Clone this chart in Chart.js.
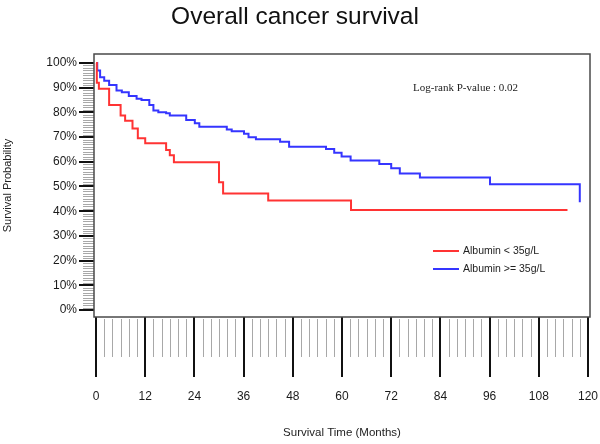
<!DOCTYPE html>
<html>
<head>
<meta charset="utf-8">
<title>Overall cancer survival</title>
<script src="https://cdn.jsdelivr.net/npm/chart.js@4.4.1/dist/chart.umd.min.js"></script>
<style>
    html, body { margin: 0; padding: 0; background: #ffffff; }
    #chartWrap { width: 600px; height: 444px; position: relative; }
</style>
</head>
<body>
<div id="chartWrap"><canvas id="survivalChart"></canvas></div>
<script>
// Kaplan-Meier steps (months, survival %)
const lowTimes = [0, 0.2, 0.7, 3.2, 6.0, 7.1, 8.9, 10.2, 12.0, 17.1, 18.0, 19.0, 30.0, 31.0, 42.0, 62.2, 115];
const lowSurvival = [100, 92, 89.5, 83.0, 78.7, 76.6, 73.5, 69.5, 67.5, 64.8, 62.6, 59.8, 51.7, 47.2, 44.3, 40.5, 40.5];

const highTimes = [0, 0.3, 1.0, 2.0, 3.2, 5.0, 6.3, 8.0, 9.9, 11.1, 13.0, 14.0, 15.2, 17.1, 18.0, 22.0, 24.1, 25.2,
    31.9, 33.1, 36.1, 37.2, 39.0, 44.9, 47.1, 56.1, 58.1, 59.9, 62.1, 69.1, 72.0, 74.1, 79.0, 96.1, 118];
const highSurvival = [100, 96.9, 94.2, 92.8, 91.1, 88.8, 88.1, 86.6, 85.5, 85.0, 83.0, 80.7, 80.0, 79.6, 78.7, 76.9, 75.6, 74.2,
    73.1, 72.3, 71.3, 69.9, 69.1, 68.1, 66.1, 65.2, 63.7, 62.1, 60.5, 59.1, 57.4, 55.3, 53.6, 50.9, 43.6];

const groupLabels = ['Albumin < 35g/L', 'Albumin >= 35g/L'];
const xTickValues = [0, 12, 24, 36, 48, 60, 72, 84, 96, 108, 120];
const yTickValues = [0, 10, 20, 30, 40, 50, 60, 70, 80, 90, 100];
const pValueText = 'Log-rank P-value : 0.02';

const sansFont = "'Liberation Sans', Arial, sans-serif";
const serifFont = "'Liberation Serif', 'Times New Roman', serif";

function toPoints(times, values) {
    return times.map((t, i) => ({ x: t, y: values[i] }));
}

// Box, minor ticks, p-value and legend drawn on top of the chart
const survivalDecor = {
    id: 'survivalDecor',
    afterDraw(chart) {
        const ctx = chart.ctx;
        const area = chart.chartArea;
        const xScale = chart.scales.x;
        const yScale = chart.scales.y;

        ctx.save();

        // minor ticks on x (every 2 months)
        ctx.strokeStyle = '#a8a8a8';
        ctx.lineWidth = 1;
        for (let m = 0; m <= 120; m += 2) {
            if (m % 12 === 0) continue;
            const px = Math.round(xScale.getPixelForValue(m)) + 0.5;
            ctx.beginPath();
            ctx.moveTo(px, area.bottom + 2);
            ctx.lineTo(px, area.bottom + 40);
            ctx.stroke();
        }

        // minor ticks on y (every 1%)
        for (let p = 0; p <= 100; p += 1) {
            if (p % 10 === 0) continue;
            const py = Math.round(yScale.getPixelForValue(p)) + 0.5;
            ctx.beginPath();
            ctx.moveTo(area.left - 11, py);
            ctx.lineTo(area.left, py);
            ctx.stroke();
        }

        // plot box
        ctx.strokeStyle = '#4a4a4a';
        ctx.lineWidth = 1.5;
        ctx.strokeRect(area.left, area.top, area.right - area.left, area.bottom - area.top);

        // log-rank text
        ctx.fillStyle = '#222222';
        ctx.font = '11px ' + serifFont;
        ctx.textAlign = 'left';
        ctx.textBaseline = 'middle';
        ctx.fillText(pValueText, area.right - 177, area.top + 34);

        // legend
        ctx.font = '10.5px ' + sansFont;
        chart.data.datasets.forEach((ds, i) => {
            const ly = area.top + 197 + i * 18;
            ctx.strokeStyle = ds.borderColor;
            ctx.lineWidth = 2;
            ctx.beginPath();
            ctx.moveTo(area.right - 157, ly);
            ctx.lineTo(area.right - 131, ly);
            ctx.stroke();
            ctx.fillStyle = '#222222';
            ctx.fillText(ds.label, area.right - 127, ly);
        });

        ctx.restore();
    }
};

function createSurvivalChart() {
    const ctx = document.getElementById('survivalChart').getContext('2d');

    new Chart(ctx, {
        type: 'line',
        data: {
            datasets: [
                {
                    label: groupLabels[0],
                    data: toPoints(lowTimes, lowSurvival),
                    borderColor: '#ff3333',
                    borderWidth: 2,
                    stepped: 'before',
                    pointRadius: 0,
                    fill: false
                },
                {
                    label: groupLabels[1],
                    data: toPoints(highTimes, highSurvival),
                    borderColor: '#3535ff',
                    borderWidth: 2,
                    stepped: 'before',
                    pointRadius: 0,
                    fill: false
                }
            ]
        },
        options: {
            responsive: true,
            maintainAspectRatio: false,
            animation: false,
            layout: {
                padding: { top: 0, right: 10, bottom: 0, left: 0 }
            },
            plugins: {
                legend: { display: false },
                tooltip: { enabled: false },
                title: {
                    display: true,
                    text: 'Overall cancer survival',
                    color: '#111111',
                    font: { family: sansFont, size: 24.5, weight: 'normal' },
                    padding: { top: 3, bottom: 21.6 }
                }
            },
            scales: {
                x: {
                    type: 'linear',
                    min: -0.49,
                    max: 120.49,
                    afterFit: function(scale) {
                        scale.height = 127;
                        // keep the last tick label from shrinking the plot box
                        scale.paddingLeft = 0;
                        scale.paddingRight = 0;
                    },
                    afterBuildTicks: function(scale) {
                        scale.ticks = xTickValues.map(v => ({ value: v }));
                    },
                    border: { display: false },
                    grid: {
                        drawOnChartArea: false,
                        drawTicks: true,
                        tickLength: 60,
                        color: '#111111',
                        lineWidth: 2
                    },
                    ticks: {
                        color: '#1a1a1a',
                        font: { family: sansFont, size: 12 },
                        padding: 12,
                        maxRotation: 0,
                        autoSkip: false
                    },
                    title: {
                        display: true,
                        text: 'Survival Time (Months)',
                        color: '#222222',
                        font: { family: sansFont, size: 11.5 },
                        padding: { top: 0, bottom: 4 }
                    }
                },
                y: {
                    type: 'linear',
                    min: -2.8,
                    max: 103.6,
                    afterFit: function(scale) {
                        scale.width = 94;
                        scale.paddingTop = 0;
                        scale.paddingBottom = 0;
                    },
                    afterBuildTicks: function(scale) {
                        scale.ticks = yTickValues.map(v => ({ value: v }));
                    },
                    border: { display: false },
                    grid: {
                        drawOnChartArea: false,
                        drawTicks: true,
                        tickLength: 15,
                        color: '#111111',
                        lineWidth: 2
                    },
                    ticks: {
                        color: '#1a1a1a',
                        font: { family: sansFont, size: 12 },
                        padding: 2,
                        callback: function(value) {
                            return value + '%';
                        }
                    },
                    title: {
                        display: true,
                        text: 'Survival Probability',
                        color: '#222222',
                        font: { family: sansFont, size: 11 },
                        padding: { top: 1, bottom: 0 }
                    }
                }
            }
        },
        plugins: [survivalDecor]
    });
}

createSurvivalChart();
</script>
</body>
</html>
